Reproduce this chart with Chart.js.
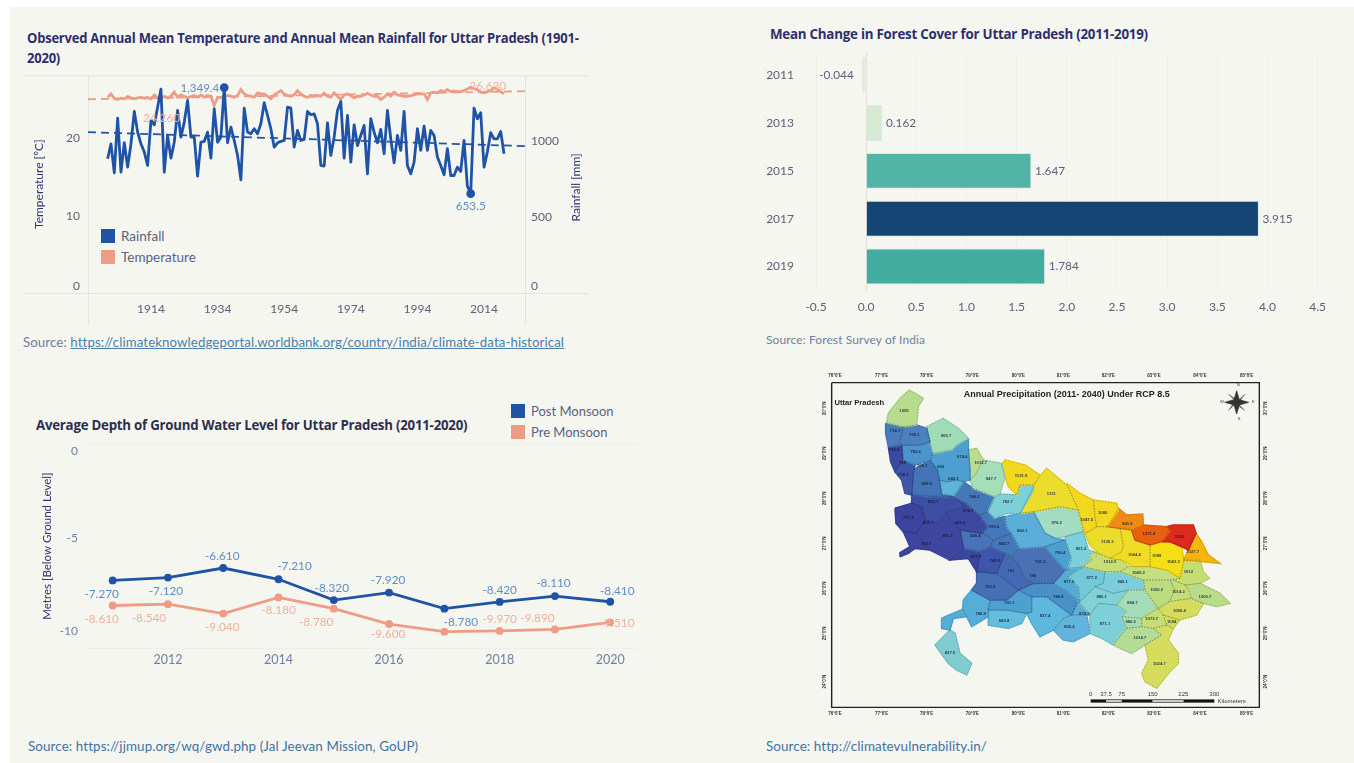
<!DOCTYPE html>
<html><head><meta charset="utf-8">
<script src="https://cdn.jsdelivr.net/npm/chart.js@4/dist/chart.umd.min.js"></script>
<style>
html,body{margin:0;padding:0;background:#fff;overflow:hidden}
#page{position:absolute;left:10px;top:7px;width:1344px;height:756px;background:#f6f6f1}
canvas{position:absolute}
.t{position:absolute;white-space:nowrap;font-family:Lato,sans-serif}
.title{font-weight:700;font-size:14.2px;color:#2c2f6b;font-family:"Open Sans",sans-serif;letter-spacing:-.25px;transform-origin:0 50%}
.src{font-size:13px;color:#6f7f9f;letter-spacing:.1px}
.src a{color:#4a7fa8;text-decoration:underline}
.lg{font-size:13px;color:#5a6380}
.sw{position:absolute;width:14px;height:14px}
</style></head><body>
<div id="page"></div>
<div class="t title" style="left:27px;top:28px;transform:scaleX(.918)">Observed Annual Mean Temperature and Annual Mean Rainfall for Uttar Pradesh (1901-</div>
<div class="t title" style="left:27px;top:48px;transform:scaleX(.918)">2020)</div>
<div class="t title" style="left:770px;top:24px;transform:scaleX(.94)">Mean Change in Forest Cover for Uttar Pradesh (2011-2019)</div>
<div class="t title" style="left:36px;top:415px;color:#2c2f4f;transform:scaleX(.935)">Average Depth of Ground Water Level for Uttar Pradesh (2011-2020)</div>
<div class="t src" style="left:23px;top:334px;font-size:13.25px">Source: <a>https://climateknowledgeportal.worldbank.org/country/india/climate-data-historical</a></div>
<div class="t src" style="left:766px;top:332px;font-size:12px">Source: Forest Survey of India</div>
<div class="t src" style="left:28px;top:738px;color:#3f72a3;font-size:13.4px">Source: https://jjmup.org/wq/gwd.php (Jal Jeevan Mission, GoUP)</div>
<div class="t src" style="left:766px;top:738px;color:#3f72a3;font-size:13.4px">Source: http://climatevulnerability.in/</div>
<div class="sw" style="left:101px;top:229px;background:#1f53a6"></div><div class="t lg" style="left:121px;top:228px;font-size:13.5px">Rainfall</div>
<div class="sw" style="left:101px;top:250px;background:#ee9c85"></div><div class="t lg" style="left:121px;top:249px;font-size:13.5px">Temperature</div>
<div class="sw" style="left:511px;top:404px;background:#1f53a6"></div><div class="t lg" style="left:531px;top:403px">Post Monsoon</div>
<div class="sw" style="left:511px;top:425px;background:#ee9c85"></div><div class="t lg" style="left:531px;top:424px">Pre Monsoon</div>
<canvas id="c1" width="566" height="265" style="left:23px;top:60px"></canvas>
<canvas id="c2" width="575" height="289" style="left:760px;top:27px"></canvas>
<canvas id="c3" width="613" height="240" style="left:30px;top:430px"></canvas>
<canvas id="c4" width="450" height="350" style="left:820px;top:370px;filter:blur(.45px)"></canvas>
<script>
/* ---------- climate chart ---------- */
const climateYears = [1901,1902,1903,1904,1905,1906,1907,1908,1909,1910,1911,1912,1913,1914,1915,1916,1917,1918,1919,1920,1921,1922,1923,1924,1925,1926,1927,1928,1929,1930,1931,1932,1933,1934,1935,1936,1937,1938,1939,1940,1941,1942,1943,1944,1945,1946,1947,1948,1949,1950,1951,1952,1953,1954,1955,1956,1957,1958,1959,1960,1961,1962,1963,1964,1965,1966,1967,1968,1969,1970,1971,1972,1973,1974,1975,1976,1977,1978,1979,1980,1981,1982,1983,1984,1985,1986,1987,1988,1989,1990,1991,1992,1993,1994,1995,1996,1997,1998,1999,2000,2001,2002,2003,2004,2005,2006,2007,2008,2009,2010,2011,2012,2013,2014,2015,2016,2017,2018,2019,2020];
const rainfall = [882,980,790,1149,794,987,827,980,1193,1057,980,926,838,1134,1105,1221,1340,794,1035,886,991,1199,1024,1123,1265,1024,1024,768,991,996,1057,886,1210,991,1024,1349.4,987,1090,1002,904,744,1215,1057,1046,1079,1046,1112,1250,1167,1079,959,987,996,1002,1221,1215,959,1068,1002,1009,1193,1171,1177,1112,838,834,1118,904,1024,1199,1258,886,1167,860,1105,969,1035,1101,783,1145,1057,987,1075,915,1199,1013,856,1035,937,1193,838,783,860,1079,937,1096,937,1068,1035,893,838,777,948,772,772,827,799,1002,702,653.5,1215,1145,1184,827,926,1053,1013,1013,1061,915];
const temperature = [25.32,25.75,25.19,25.02,25.19,25.11,25.41,25.24,25.11,25.24,25.32,25.19,25.28,25.11,25.62,25.24,25.19,25.45,25.24,25.45,25.97,25.32,25.62,25.45,25.24,25.41,25.54,25.32,25.62,25.32,25.54,25.45,24.26,25.32,25.24,25.54,25.54,25.45,25.32,25.54,26.31,25.75,25.54,25.45,25.32,25.88,25.75,25.75,25.45,25.11,25.62,25.88,26.18,25.75,25.54,25.45,25.62,26.18,25.75,25.45,25.32,25.45,25.45,25.54,25.45,25.84,25.45,25.32,25.88,25.45,25.02,25.62,25.75,25.54,25.24,25.45,25.45,25.62,25.84,25.62,25.45,25.45,25.02,25.32,25.75,25.45,25.97,25.62,25.54,25.45,25.45,25.54,25.62,25.75,25.75,25.75,25.02,25.88,25.97,25.88,26.18,26.05,26.31,26.05,26.14,26.05,26.05,26.18,26.4,26.63,26.4,26.31,25.97,25.88,26.05,26.18,26.55,26.31,26.05,25.75];
const trendYears = [1895.1,2026.3];
const rainfallTrend = [1057,965];
const temperatureTrend = [25.06,26.1];
const climateTicks = [1914,1934,1954,1974,1994,2014];
const temperatureTicks = [0,10,20];
const rainfallTicks = [0,500,1000];

/* ---------- forest chart ---------- */
const forestYears = ['2011','2013','2015','2017','2019'];
const forestChange = [-0.044,0.162,1.647,3.915,1.784];
const forestColors = ['#e8e8dc','#d6e9d2','#51b4a6','#154574','#43aca1'];
const forestTicks = [-0.5,0,0.5,1,1.5,2,2.5,3,3.5,4,4.5];

/* ---------- ground water chart ---------- */
const waterYears = [2011,2012,2013,2014,2015,2016,2017,2018,2019,2020];
const postMonsoon = [-7.27,-7.12,-6.61,-7.21,-8.32,-7.92,-8.78,-8.42,-8.11,-8.41];
const preMonsoon = [-8.61,-8.54,-9.04,-8.18,-8.78,-9.6,-10.01,-9.97,-9.89,-9.51];
const waterYearTicks = [2012,2014,2016,2018,2020];
const waterDepthTicks = [0,-5,-10];

/* ---------- precipitation map: district outlines in map grid units ---------- */
const districtOutlines = [
[[205,130],[240,85],[268,60],[310,85],[295,110],[290,165],[250,170],[200,158]],
[[197,160],[250,170],[240,215],[245,225],[205,230],[197,190]],
[[250,170],[290,165],[320,175],[330,215],[300,225],[245,225],[240,215]],
[[320,170],[370,145],[415,175],[445,205],[410,225],[395,240],[340,250],[330,215]],
[[205,230],[245,225],[248,270],[225,305],[212,275]],
[[245,225],[300,225],[330,215],[338,250],[330,270],[285,285],[250,270]],
[[225,305],[250,270],[285,285],[280,310],[275,375],[255,370],[245,330]],
[[280,300],[330,270],[352,300],[358,330],[365,375],[400,380],[320,380],[275,372]],
[[338,250],[395,240],[410,225],[445,208],[445,240],[450,300],[450,330],[430,335],[410,330],[380,335],[358,330],[352,300],[332,272]],
[[358,330],[380,335],[410,330],[430,335],[400,380],[378,372],[365,375]],
[[445,240],[470,235],[490,270],[465,315],[450,330],[450,290]],
[[490,270],[545,280],[555,320],[540,372],[525,380],[460,355],[450,330],[465,315]],
[[545,285],[555,270],[615,285],[660,315],[640,345],[600,345],[590,375],[565,350],[555,320]],
[[540,372],[590,375],[600,345],[640,345],[640,360],[600,430],[560,430],[525,445],[505,425],[525,380]],
[[600,430],[640,350],[660,318],[680,295],[740,345],[775,420],[720,410],[640,425]],
[[740,340],[780,370],[820,390],[825,440],[830,470],[815,480],[795,490],[775,420]],
[[820,390],[890,400],[895,420],[875,450],[860,470],[830,470],[825,440]],
[[875,450],[895,415],[920,435],[968,432],[970,465],[935,480],[900,475],[860,470]],
[[935,480],[970,465],[1040,470],[1050,485],[1025,515],[990,525],[945,510]],
[[1025,515],[1050,485],[1040,470],[1060,465],[1120,465],[1128,490],[1105,540],[1085,530],[1050,515]],
[[1105,540],[1128,490],[1145,515],[1165,555],[1200,580],[1150,575],[1090,570]],
[[815,480],[830,470],[860,470],[900,475],[910,525],[905,545],[870,565],[835,550],[810,525],[795,490]],
[[900,475],[935,480],[945,510],[990,525],[990,590],[940,590],[905,570],[870,565],[905,545],[910,525]],
[[990,525],[1025,515],[1050,515],[1085,530],[1092,570],[1080,625],[1040,600],[990,590]],
[[810,550],[835,550],[870,565],[905,570],[925,590],[900,605],[855,605],[790,590],[815,570]],
[[925,590],[990,590],[1040,600],[1080,625],[1050,630],[970,630],[900,605]],
[[1092,570],[1140,570],[1150,605],[1168,625],[1140,640],[1095,645],[1060,630],[1080,625]],
[[970,630],[1050,630],[1065,660],[1048,695],[1015,715],[975,660]],
[[1050,630],[1060,630],[1095,645],[1105,650],[1115,685],[1110,685],[1048,695],[1065,660]],
[[1095,645],[1140,640],[1200,670],[1230,700],[1190,710],[1150,700],[1115,685]],
[[1015,715],[1048,695],[1110,685],[1150,700],[1130,735],[1080,750],[1030,735]],
[[1030,735],[1080,750],[1060,775],[1040,765]],
[[965,745],[1015,715],[1030,735],[1040,765],[1000,775],[965,770]],
[[905,740],[965,745],[965,770],[920,775]],
[[890,705],[925,660],[975,660],[1015,715],[965,745],[905,740],[920,725]],
[[880,825],[920,775],[965,770],[1000,775],[1025,795],[975,825],[935,850],[900,835]],
[[1040,765],[1060,775],[1045,810],[1075,850],[1075,880],[1050,905],[1010,955],[975,935],[965,910],[985,870],[975,825],[1025,795],[1000,775]],
[[810,735],[835,700],[890,705],[920,725],[905,740],[920,775],[880,825],[845,805],[810,790]],
[[745,620],[790,590],[855,605],[850,640],[825,650],[780,695],[775,650]],
[[855,605],[900,605],[970,630],[975,660],[925,660],[880,670],[825,650],[850,640]],
[[780,695],[825,650],[880,670],[925,660],[890,705],[835,700],[810,735],[775,695]],
[[735,500],[790,485],[805,540],[835,550],[815,570],[790,590],[745,595],[755,560]],
[[675,530],[735,510],[755,570],[745,600],[735,600],[700,560]],
[[555,440],[600,430],[640,425],[675,490],[705,505],[735,510],[675,530],[600,535],[575,490],[560,470]],
[[640,425],[720,410],[775,420],[790,485],[735,500],[705,505],[675,490]],
[[480,435],[505,425],[525,445],[555,440],[560,470],[575,490],[520,510],[490,490],[505,470]],
[[400,380],[430,335],[460,355],[525,380],[505,425],[480,435],[440,400]],
[[225,415],[275,400],[305,410],[315,450],[290,490],[250,485],[228,460]],
[[275,375],[400,380],[435,410],[380,425],[355,460],[315,450],[305,410],[275,400]],
[[400,380],[440,400],[480,435],[505,470],[490,490],[420,480],[390,450],[380,425],[435,410]],
[[290,490],[315,450],[355,460],[380,425],[390,450],[420,480],[430,535],[390,570],[330,540]],
[[240,560],[240,548],[270,530],[250,485],[290,490],[330,540],[285,535],[265,550]],
[[420,480],[490,490],[520,510],[510,530],[480,545],[430,535]],
[[520,510],[575,490],[600,535],[575,560],[555,550],[510,530]],
[[430,535],[480,545],[470,605],[445,565],[390,570]],
[[480,545],[510,530],[555,550],[530,610],[470,605]],
[[600,535],[675,530],[700,560],[735,600],[700,640],[640,640],[615,625],[590,575],[575,560]],
[[555,550],[575,560],[590,575],[615,625],[640,640],[595,660],[530,610]],
[[470,605],[530,610],[595,660],[560,690],[510,690],[455,660],[470,640]],
[[700,640],[735,600],[745,595],[790,590],[745,620],[775,650],[780,695],[735,660]],
[[595,660],[640,640],[700,640],[735,660],[780,695],[770,700],[755,735],[680,680],[635,680]],
[[505,720],[510,690],[560,690],[595,660],[635,680],[635,725],[620,730],[560,720]],
[[430,690],[455,660],[510,690],[505,720],[505,740],[455,770],[440,740],[428,718]],
[[365,745],[428,718],[440,740],[400,745],[390,780],[365,775]],
[[505,740],[505,720],[560,720],[620,730],[605,760],[565,775],[505,765]],
[[635,680],[680,680],[755,735],[730,745],[700,780],[660,800],[635,760],[620,730],[635,725]],
[[700,780],[730,745],[755,735],[800,735],[810,790],[760,815],[730,810]],
[[755,735],[770,700],[775,695],[810,735],[800,735]],
[[390,780],[405,790],[420,850],[455,880],[440,915],[410,900],[385,880],[345,825],[375,795]]
];
const districtColors = ['#b8dc8e','#4a7cbd','#4c80c0','#a0dcb8','#3b49a2','#4c94cc','#3f56a8','#4474b8','#4d9fcf','#5fb5d8','#b9dc8f','#a6deba','#f2d81e','#7dd0d8','#ecdc2c','#f2d81e','#f2d81e','#f08a14','#e9600f','#dc2a1c','#f5b50c','#ecdc2c','#f0dc24','#f5de14','#c6de78','#c4de80','#c4de74','#bcdc80','#c6de78','#b8dc88','#d6dc5e','#d2dc60','#c6de78','#a8ddb0','#a4dcb8','#b4dc94','#d6dc5e','#7dd0d8','#75c8d8','#7ccedc','#80d2d4','#7dcfdc','#4aa0d0','#5aaed8','#a3dcc0','#4478ba','#4578b9','#3a43a0','#3f4ea5','#3d49a1','#3e47a0','#3f44a0','#4a72b8','#4478b8','#3c45a0','#3f55ab','#4a70b6','#4568b4','#4670b6','#55abd6','#4a90c8','#4da0d0','#55aed8','#55aed8','#62bedc','#5cb8dc','#62b4dc','#5cb0d8','#80ccd0'];
const districtLabels = ['1005','714.1','705.1','905.7','715.5','752.6','718','700.1','660','674.6','1012.7','640.1','947.7','1131.9','718.3','665.5','746.2','782.7','1131','801.1','818.1','777.3','801.1','660.0','720.2','860.1','976.2','1047.5','1080','941.5','1071.4','1100','1027.7','1135.3','1044.4','1089','1043.3','801.1','680.4','845.7','750.7','796.4','801.2','817.7','749.9','751.3','1012.5','1045.2','1012','701','786','877.6','877.3','845.1','752.2','1050.2','1014.2','1000.7','886.1','786.6','884.7','701.1','1056.4','786.9','849.8','837.4','878.5','871.1','886.5','1073.7','1094','865.4','1014.7','827.5','1024.7'];
const districtLabelX = [252,225,283,378,222,287,248,306,362,427,482,400,513,603,250,320,463,563,694,340,445,265,325,420,522,607,710,800,848,922,987,1078,1118,862,943,1010,1060,383,466,552,318,720,783,468,524,661,870,955,1105,573,638,747,815,908,510,1010,1075,1155,845,715,937,568,1078,482,552,675,793,855,932,995,1055,748,960,390,1018];
const districtLabelY = [122,184,196,198,240,246,280,287,290,260,280,328,328,318,316,342,381,397,373,397,423,443,458,458,470,482,458,451,430,462,492,500,546,516,554,558,576,499,499,523,523,548,536,561,574,576,576,608,607,603,618,635,625,635,652,660,667,682,682,682,700,700,722,733,753,738,733,763,755,748,755,770,805,850,883];
const mapFrameX = [35,1318,1318,35,35];
const mapFrameY = [38,38,1012,1012,38];
const scaleBarKm = ['0','37.5','75','150','225','300'];
const scaleBarX = [812,858,905,998,1090,1183];
const lonLabels = ["76°0'E","77°0'E","78°0'E","79°0'E","80°0'E","81°0'E","82°0'E","83°0'E","84°0'E","85°0'E"];
const lonX = [45,185,320,457,595,730,865,1002,1140,1280];
const latLabels = ["30°0'N","29°0'N","28°0'N","27°0'N","26°0'N","25°0'N","24°0'N"];
const latY = [115,250,385,520,655,790,935];
const compassX = [1250,1258,1286,1258,1250,1242,1214,1242,1250];
const compassY = [62,89,97,105,132,105,97,89,62];
const compassDiagX = [1226,1254,1274,1254,1274,1246,1226,1246,1226];
const compassDiagY = [73,93,73,101,121,101,121,93,73];

/* ---------- helpers ---------- */
Chart.defaults.font.family = 'Lato, sans-serif';
Chart.defaults.animation = false;
Chart.defaults.responsive = false;
Chart.defaults.devicePixelRatio = 1;
const pts = (xs, ys) => xs.map((x, i) => ({x, y: ys[i]}));
const setTicks = vals => s => { s.ticks = vals.map(value => ({value})); };
const BLUE = '#1f53a6', PEACH = '#ee9c85', LBLUE = '#5f8dc6', LPEACH = '#efb09e', NAVY = '#2e3570', RULE = '#e5e5df';

function notes(items) {
  return { id: 'notes', afterDatasetsDraw(ch) {
    const c = ch.ctx; c.save();
    for (const n of items()) {
      const ys = ch.scales[n.axis || 'y'];
      let x = ch.scales.x.getPixelForValue(n.x) + (n.dx || 0), y = ys.getPixelForValue(n.y) + (n.dy || 0);
      c.save(); c.translate(x, y); if (n.rot) c.rotate(n.rot);
      c.font = n.font || '11.8px Lato, sans-serif'; c.fillStyle = n.color || '#555';
      c.textAlign = n.align || 'center'; c.textBaseline = 'middle';
      c.fillText(n.text, 0, 0); c.restore();
    }
    c.restore();
  }};
}
const frame = fn => ({ id: 'frame', beforeDatasetsDraw(ch) {
  const c = ch.ctx; c.save(); c.strokeStyle = RULE; c.lineWidth = 1; fn(c, ch); c.restore();
}});
const seg = (c, a, b, d, e) => { c.beginPath(); c.moveTo(a + .5, b + .5); c.lineTo(d + .5, e + .5); c.stroke(); };
const noGrid = { display: false, drawTicks: false };

/* ---------- chart 1 ---------- */
new Chart(document.getElementById('c1'), {
  type: 'scatter',
  data: { datasets: [
    { label: 'Rainfall', yAxisID: 'yR', data: pts(climateYears, rainfall), showLine: true, borderColor: BLUE, backgroundColor: BLUE, borderWidth: 2.8, borderJoinStyle: 'round',
      pointRadius: climateYears.map((_, i) => (rainfall[i] === Math.max(...rainfall) || rainfall[i] === Math.min(...rainfall)) ? 3 : 0) },
    { label: 'Rainfall trend', yAxisID: 'yR', data: pts(trendYears, rainfallTrend), showLine: true, borderColor: BLUE, borderDash: [8, 5], borderWidth: 1.8, pointRadius: 0 },
    { label: 'Temperature', yAxisID: 'y', data: pts(climateYears, temperature), showLine: true, borderColor: PEACH, borderWidth: 2.8, pointRadius: 0 },
    { label: 'Temperature trend', yAxisID: 'y', data: pts(trendYears, temperatureTrend), showLine: true, borderColor: PEACH, borderDash: [8, 5], borderWidth: 1.8, pointRadius: 0 }
  ]},
  options: {
    layout: { padding: { top: 15 } },
    plugins: { legend: { display: false }, tooltip: { enabled: false } },
    scales: {
      x: { type: 'linear', min: trendYears[0], max: trendYears[1], afterBuildTicks: setTicks(climateTicks), afterFit: s => { s.height = 32; },
           grid: noGrid, border: { display: false },
           ticks: { padding: 9, maxRotation: 0, autoSkip: false, color: '#5c6178', font: { size: 12 }, callback: v => String(v) } },
      y: { position: 'left', min: 0, max: 28.17, afterBuildTicks: setTicks(temperatureTicks), afterFit: s => { s.width = 65; },
           grid: noGrid, border: { display: false },
           title: { display: true, text: 'Temperature [ºC]', color: NAVY, padding: { top: 9, bottom: 0 }, font: { size: 12 } },
           ticks: { padding: 8, color: '#5c6178', font: { size: 12 }, callback: v => v === 0 ? ['0', ''] : String(v) } },
      yR: { position: 'right', min: 0, max: 1431, afterBuildTicks: setTicks(rainfallTicks), afterFit: s => { s.width = 64; },
           grid: noGrid, border: { display: false },
           ticks: { padding: 6, color: '#5c6178', font: { size: 12 }, callback: v => v === 0 ? ['0', ''] : String(v) } }
    }
  },
  plugins: [
    frame((c, ch) => { const a = ch.chartArea;
      seg(c, 0, a.top, ch.width, a.top); seg(c, 0, a.bottom, ch.width, a.bottom);
      seg(c, a.left, a.top, a.left, ch.height); seg(c, a.right, a.top, a.right, ch.height); }),
    notes(() => [
      { text: '1,349.4', x: 1936, y: 1349.4, axis: 'yR', dx: -5, dy: 1, align: 'right', color: LBLUE, font: '11.5px Lato, sans-serif' },
      { text: '653.5', x: 2010, y: 653.5, axis: 'yR', dy: 13, color: LBLUE },
      { text: '24.260', x: 1917.2, y: 24.26, dy: 13, color: LPEACH },
      { text: '26.630', x: 2014.5, y: 26.63, dx: 2, dy: -1, color: LPEACH },
      { text: 'Rainfall [mm]', x: 2026.3, y: 700, axis: 'yR', dx: 51, dy: 1, rot: -Math.PI / 2, color: NAVY, font: '12px Lato, sans-serif' }
    ])
  ]
});

/* ---------- chart 2 ---------- */
new Chart(document.getElementById('c2'), {
  type: 'bar',
  data: { labels: forestYears, datasets: [{ label: 'Mean change', data: forestChange, backgroundColor: forestColors, borderColor: 'rgba(215,228,224,.8)', borderWidth: 1, barPercentage: .75, categoryPercentage: 1 }] },
  options: {
    indexAxis: 'y',
    layout: { autoPadding: false, padding: { top: 6 } },
    plugins: { legend: { display: false }, tooltip: { enabled: false } },
    scales: {
      x: { min: -0.55, max: 4.55, afterBuildTicks: setTicks(forestTicks), afterFit: s => { s.height = 25.5; },
           grid: { color: c => c.tick && c.tick.value === 0 ? '#e2e2db' : '#f1f1ec', drawTicks: false }, border: { display: false },
           ticks: { padding: 9, maxRotation: 0, autoSkip: false, color: '#5c6178', font: { size: 12 }, callback: v => v.toFixed(1) } },
      y: { afterFit: s => { s.width = 51; }, grid: noGrid, border: { display: false },
           ticks: { padding: 17, color: '#5c6178', font: { size: 12 } } }
    }
  },
  plugins: [{ id: 'barValues', afterDatasetsDraw(ch) {
    const c = ch.ctx; c.save(); c.font = '11.8px Lato, sans-serif'; c.fillStyle = '#5c6178'; c.textBaseline = 'middle';
    ch.getDatasetMeta(0).data.forEach((b, i) => {
      const v = forestChange[i];
      c.textAlign = v < 0 ? 'right' : 'left';
      c.fillText(String(v), b.x + (v < 0 ? -8 : 3.5), b.y);
    });
    c.restore();
  }}]
});

/* ---------- chart 3 ---------- */
const postOffsets = [[-11,14],[-2,14],[-1,-12],[16,-13],[-2,-12],[-1,-12],[16.5,14],[0,-11.5],[-1.5,-12.7],[7,-11]];
const preOffsets = [[-11,14],[-19,14],[-1,14],[0,13],[-17.6,14],[-1,10],null,[0,-12],[-17.6,-11],[7,1]];
const fmt3 = v => v.toFixed(3);
new Chart(document.getElementById('c3'), {
  type: 'scatter',
  data: { datasets: [
    { label: 'Post Monsoon', data: pts(waterYears, postMonsoon), showLine: true, borderColor: BLUE, backgroundColor: BLUE, borderWidth: 2.8, pointRadius: 2.5 },
    { label: 'Pre Monsoon', data: pts(waterYears, preMonsoon), showLine: true, borderColor: PEACH, backgroundColor: PEACH, borderWidth: 2.8, pointRadius: 2.5 }
  ]},
  options: {
    layout: { padding: { top: 12 } },
    plugins: { legend: { display: false }, tooltip: { enabled: false } },
    scales: {
      x: { type: 'linear', min: 2010.5, max: 2020.47, afterBuildTicks: setTicks(waterYearTicks), afterFit: s => { s.height = 22; },
           grid: noGrid, border: { display: false },
           ticks: { padding: 4, maxRotation: 0, autoSkip: false, color: '#6e7fa0', font: { size: 12.5 }, callback: v => String(v) } },
      y: { min: -10.88, max: 0, afterBuildTicks: setTicks(waterDepthTicks), afterFit: s => { s.width = 55; },
           grid: noGrid, border: { display: false },
           title: { display: true, text: 'Metres [Below Ground Level]', color: NAVY, padding: { top: 10, bottom: 0 }, font: { size: 11.5 } },
           ticks: { padding: 7, color: '#6e7fa0', font: { size: 12 }, callback: v => v === 0 ? ['', '0'] : String(v) } }
    }
  },
  plugins: [
    frame((c, ch) => { const a = ch.chartArea; c.strokeStyle = '#efefea';
      seg(c, a.left, a.top, a.right, a.top); seg(c, a.left, a.bottom, a.right, a.bottom); }),
    notes(() => {
      const out = [];
      waterYears.forEach((yr, i) => {
        out.push({ text: fmt3(postMonsoon[i]), x: yr, y: postMonsoon[i], dx: postOffsets[i][0], dy: postOffsets[i][1], color: LBLUE });
        if (preOffsets[i]) out.push({ text: fmt3(preMonsoon[i]), x: yr, y: preMonsoon[i], dx: preOffsets[i][0], dy: preOffsets[i][1], color: LPEACH });
      });
      return out;
    })
  ]
});

/* ---------- chart 4 (map) ---------- */
const closed = o => o.concat([o[0]]).map(p => ({ x: p[0], y: p[1] }));
const mapDatasets = [];
districtOutlines.forEach((o, i) => {
  mapDatasets.push({ label: 'District ' + (i + 1) + ' outline', data: closed(o), showLine: true, borderColor: 'rgba(25,25,25,.42)', borderWidth: .6, borderDash: [1.5, 1.5], pointRadius: 0, order: 5 });
  mapDatasets.push({ label: 'District ' + (i + 1), data: closed(o), showLine: true, fill: 'shape', backgroundColor: districtColors[i], borderColor: districtColors[i], borderWidth: 1.6, pointRadius: 0, order: 6 });
});
mapDatasets.push(
  { label: 'Frame', data: pts(mapFrameX, mapFrameY), showLine: true, borderColor: '#222', borderWidth: 1.4, pointRadius: 0 },
  { label: 'Compass', data: pts(compassX, compassY), showLine: true, fill: 'shape', backgroundColor: '#333', borderColor: '#333', borderWidth: .7, pointRadius: 0 },
  { label: 'Compass diagonals', data: pts(compassDiagX, compassDiagY), showLine: true, fill: 'shape', backgroundColor: '#555', borderColor: '#555', borderWidth: .5, pointRadius: 0, order: 1 }
);
for (let i = 0; i < scaleBarX.length - 1; i++) {
  const hx = scaleBarX[i + 1], lx = scaleBarX[i];
  mapDatasets.push({ label: 'Scale ' + i, data: [{ x: lx, y: 993 }, { x: hx, y: 993 }], showLine: true, borderColor: '#111', borderWidth: 3.2, pointRadius: 0, order: 2 });
  if (i % 2) mapDatasets.push({ label: 'Scale gap ' + i, data: [{ x: lx, y: 993 }, { x: hx, y: 993 }], showLine: true, borderColor: '#f6f6f1', borderWidth: 1.6, pointRadius: 0, order: -1 });
}
const B = 'bold ';
new Chart(document.getElementById('c4'), {
  type: 'scatter',
  data: { datasets: mapDatasets },
  options: {
    plugins: { legend: { display: false }, tooltip: { enabled: false } },
    scales: { x: { display: false, min: 0, max: 1350 }, y: { display: false, min: 0, max: 1050, reverse: true } }
  },
  plugins: [notes(() => {
    const out = [];
    districtLabels.forEach((t, i) => out.push({ text: t, x: districtLabelX[i], y: districtLabelY[i], color: 'rgba(10,20,40,.8)', font: B + '4.2px "Liberation Sans"' }));
    out.push({ text: 'Annual Precipitation (2011- 2040) Under RCP 8.5', x: 740, y: 73, color: '#222', font: B + '9px "Liberation Sans"' });
    out.push({ text: 'Uttar Pradesh', x: 118, y: 100, color: '#222', font: B + '7.6px "Liberation Sans"' });
    scaleBarKm.forEach((t, i) => out.push({ text: t, x: scaleBarX[i], y: 972, color: '#333', font: '6px "Liberation Sans"' }));
    out.push({ text: 'Kilometers', x: 1235, y: 993, color: '#333', font: '6px "Liberation Sans"' });
    out.push({ text: 'W', x: 1206, y: 97, color: '#333', font: '4px "Liberation Sans"' }, { text: 'E', x: 1300, y: 97, color: '#333', font: '4px "Liberation Sans"' }, { text: 'N', x: 1255, y: 46, color: '#333', font: '4px "Liberation Sans"' }, { text: 'S', x: 1257, y: 148, color: '#333', font: '4px "Liberation Sans"' });
    lonLabels.forEach((t, i) => { [18, 1032].forEach(y => out.push({ text: t, x: lonX[i], y, color: '#333', font: B + '4.5px "Liberation Sans"' })); });
    latLabels.forEach((t, i) => { [15, 1337].forEach(x => out.push({ text: t, x, y: latY[i], rot: -Math.PI / 2, color: '#333', font: B + '4.5px "Liberation Sans"' })); });
    return out;
  })]
});
</script>
</body></html>
